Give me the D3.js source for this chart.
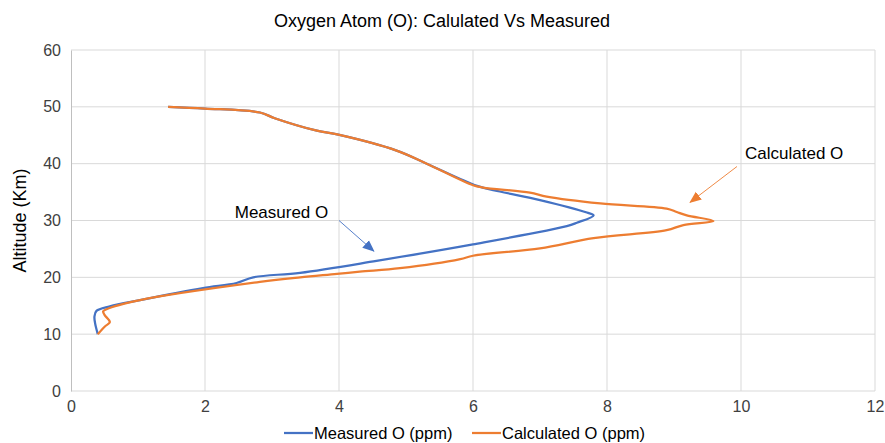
<!DOCTYPE html>
<html>
<head>
<meta charset="utf-8">
<script src="https://cdn.jsdelivr.net/npm/d3@7"></script>
<style>
  body { margin: 0; background: #fff; }
  text { font-family: "Liberation Sans", Arial, sans-serif; fill: #404040; }
</style>
</head>
<body>
<svg id="chart" width="885" height="443"></svg>
<script>
/* data */
const xTicks = [0, 2, 4, 6, 8, 10, 12]
const yTicks = [0, 10, 20, 30, 40, 50, 60]

const measuredAlt = [10, 11.9, 13.1, 14.1, 14.9, 16, 18.1, 19, 20, 20.8, 22.9, 25.8, 29, 29.6, 30.9, 31.4, 33.6, 35.1, 36.1, 40, 42.3, 45.1, 45.8, 48, 49, 49.7, 50]
const measuredO   = [0.40, 0.36, 0.35, 0.38, 0.58, 1.03, 1.97, 2.47, 2.72, 3.42, 4.56, 6.0, 7.40, 7.55, 7.80, 7.70, 7.0, 6.40, 6.06, 5.31, 4.86, 3.99, 3.67, 3.04, 2.82, 2.0, 1.45]

const calculatedAlt = [10, 11.4, 12.1, 13.4, 14.0, 14.4, 16, 19.2, 20.0, 20.6, 21.0, 21.6, 23.2, 23.8, 25.1, 26.9, 28.3, 29.2, 29.9, 30.9, 31.5, 32.1, 33.0, 34.2, 34.9, 35.8, 36.2, 40, 42.3, 45.1, 45.8, 48, 49, 49.7, 50]
const calculatedO   = [0.40, 0.51, 0.58, 0.50, 0.48, 0.53, 1.03, 2.82, 3.42, 3.97, 4.31, 4.91, 5.81, 6.0, 7.0, 7.80, 8.89, 9.14, 9.59, 9.19, 9.04, 8.89, 7.90, 7.10, 6.85, 6.15, 6.0, 5.31, 4.86, 3.99, 3.67, 3.04, 2.82, 2.0, 1.45]

const color_measured = '#4472C4', color_calculated = '#ED7D31'

const svg = d3.select('#chart')
const margin = {left: 71, right: 10, top: 50, bottom: 52}
const width = 885, height = 443

const x = d3.scaleLinear().domain([0, 12]).range([margin.left, width - margin.right])
const y = d3.scaleLinear().domain([0, 60]).range([height - margin.bottom, margin.top])

/* grid */
svg.append('g')
    .selectAll('line.vg')
    .data(xTicks.slice(1))
    .join('line')
    .attr('x1', d=>x(d)).attr('x2', d=>x(d))
    .attr('y1', y(0)).attr('y2', y(60))
    .attr('stroke', '#d9d9d9').attr('stroke-width', 1)

svg.append('g')
    .selectAll('line.hg')
    .data(yTicks)
    .join('line')
    .attr('x1', x(0)).attr('x2', x(12))
    .attr('y1', d=>y(d)).attr('y2', d=>y(d))
    .attr('stroke', '#d9d9d9').attr('stroke-width', 1)

/* axes */
const xAxis = svg.append('g')
    .attr('transform', `translate(0,${y(0)})`)
    .call(d3.axisBottom(x).tickValues(xTicks).tickSize(0).tickPadding(10))
const yAxis = svg.append('g')
    .attr('transform', `translate(${x(0)},0)`)
    .call(d3.axisLeft(y).tickValues(yTicks).tickSize(0).tickPadding(10))

xAxis.select('.domain').remove()
yAxis.select('.domain').attr('stroke', '#bfbfbf')
svg.selectAll('.tick text').style('font-size', '16px').attr('fill', '#404040')

/* lines */
const line = d3.line().curve(d3.curveCatmullRom.alpha(0.5))

svg.append('path')
    .datum(d3.zip(measuredO, measuredAlt))
    .attr('d', line.x(d=>x(d[0])).y(d=>y(d[1])))
    .attr('fill', 'none')
    .attr('stroke', color_measured)
    .attr('stroke-width', 2.25)
    .attr('stroke-linejoin', 'round')

svg.append('path')
    .datum(d3.zip(calculatedO, calculatedAlt))
    .attr('d', line.x(d=>x(d[0])).y(d=>y(d[1])))
    .attr('fill', 'none')
    .attr('stroke', color_calculated)
    .attr('stroke-width', 2.25)
    .attr('stroke-linejoin', 'round')

/* arrow markers */
const defs = svg.append('defs')
;[['m', color_measured], ['c', color_calculated]].forEach(([id, c])=>{
    defs.append('marker')
        .attr('id', `arrow_${id}`)
        .attr('markerUnits', 'userSpaceOnUse')
        .attr('markerWidth', 12).attr('markerHeight', 12)
        .attr('viewBox', '0 0 12 12')
        .attr('refX', 11).attr('refY', 6)
        .attr('orient', 'auto')
        .append('path')
        .attr('d', 'M0,1 L12,6 L0,11 Z')
        .attr('fill', c)
})

/* annotations */
svg.append('text')
    .attr('x', x(3.84)).attr('y', y(31.5))
    .attr('dy', '0.35em')
    .attr('text-anchor', 'end')
    .style('font-size', '17px')
    .style('fill', '#000')
    .text('Measured O')
svg.append('line')
    .attr('x1', x(4.0)).attr('y1', y(30))
    .attr('x2', x(4.52)).attr('y2', y(24.6))
    .attr('stroke', color_measured).attr('stroke-width', 0.9)
    .attr('marker-end', 'url(#arrow_m)')

svg.append('text')
    .attr('x', x(10.06)).attr('y', y(41.9))
    .attr('dy', '0.35em')
    .style('font-size', '17px')
    .style('fill', '#000')
    .text('Calculated O')
svg.append('line')
    .attr('x1', x(9.94)).attr('y1', y(39.5))
    .attr('x2', x(9.24)).attr('y2', y(33.2))
    .attr('stroke', color_calculated).attr('stroke-width', 0.9)
    .attr('marker-end', 'url(#arrow_c)')

/* title */
svg.append('text')
    .attr('x', 442).attr('y', 27)
    .attr('text-anchor', 'middle')
    .style('font-size', '18px')
    .style('fill', '#000')
    .text('Oxygen Atom (O): Calulated Vs Measured')

/* y label */
svg.append('text')
    .attr('transform', `translate(26,${(y(0)+y(60))/2}) rotate(-90)`)
    .attr('text-anchor', 'middle')
    .style('font-size', '18px')
    .style('fill', '#000')
    .text('Altitude (Km)')

/* legend */
const legendItems = [['Measured O (ppm)', color_measured, 284], ['Calculated O (ppm)', color_calculated, 472]]
const lg = svg.append('g').selectAll('g').data(legendItems).join('g')
    .attr('transform', d=>`translate(${d[2]},433)`)
lg.append('line').attr('x1', 0).attr('x2', 29).attr('y1', 0).attr('y2', 0)
    .attr('stroke', d=>d[1]).attr('stroke-width', 2.25)
lg.append('text').attr('x', 30).attr('dy', '0.35em')
    .style('font-size', '16.5px').style('fill', '#000')
    .text(d=>d[0])
</script>
</body>
</html>
